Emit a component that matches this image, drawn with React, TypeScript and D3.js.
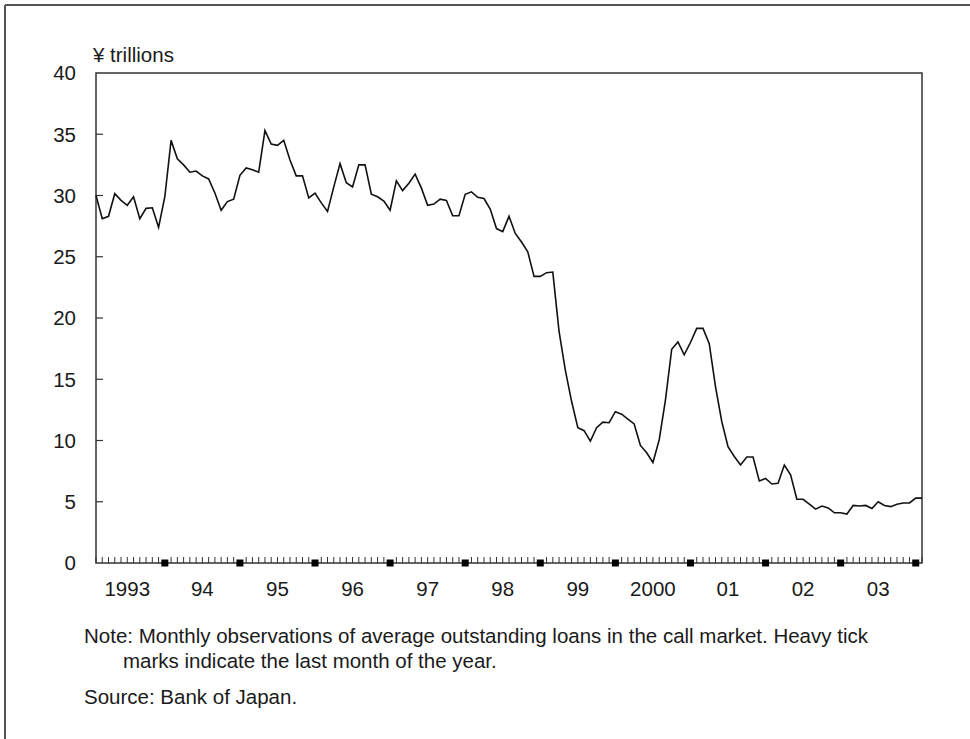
import React from "react";
import * as d3 from "d3";

const startYear = 1993;
// Monthly values, Jan 1993 .. Jan 2004 (¥ trillions)
const loans: number[] = [
  30.0, 28.1, 28.3, 30.15, 29.6, 29.2, 29.9, 28.1, 28.95, 29.0, 27.4, 29.9,
  34.5, 33.0, 32.5, 31.9, 32.0, 31.6, 31.35, 30.2, 28.8, 29.5, 29.7, 31.65,
  32.25, 32.1, 31.9, 35.3, 34.2, 34.1, 34.5, 32.9, 31.6, 31.6, 29.8, 30.2,
  29.4, 28.7, 30.7, 32.6, 31.05, 30.7, 32.5, 32.5, 30.1, 29.9, 29.55, 28.8,
  31.2, 30.4, 31.0, 31.75, 30.6, 29.2, 29.3, 29.7, 29.6, 28.35, 28.35, 30.1,
  30.3, 29.85, 29.75, 28.9, 27.3, 27.05, 28.3, 26.9, 26.2, 25.4, 23.4, 23.4,
  23.7, 23.75, 18.9, 15.75, 13.2, 11.05, 10.8, 9.95, 11.05, 11.5, 11.45, 12.35,
  12.15, 11.75, 11.35, 9.6, 9.0, 8.2, 10.05, 13.3, 17.45, 18.05, 17.0, 18.0,
  19.15, 19.15, 17.9, 14.4, 11.55, 9.5, 8.7, 8.0, 8.65, 8.65, 6.7, 6.9,
  6.45, 6.5, 8.0, 7.2, 5.2, 5.2, 4.8, 4.4, 4.65, 4.5, 4.1, 4.1,
  4.0, 4.7, 4.65, 4.7, 4.45, 5.0, 4.7, 4.6, 4.8, 4.9, 4.9, 5.3,
  5.3,
];
const yTicks = [0, 5, 10, 15, 20, 25, 30, 35, 40];
const yearLabels = ["1993", "94", "95", "96", "97", "98", "99", "2000", "01", "02", "03"];
const unitLabel = "¥ trillions";
const noteLines = [
  "Note: Monthly observations of average outstanding loans in the call market. Heavy tick",
  "marks indicate the last month of the year.",
];
const sourceLine = "Source: Bank of Japan.";

export default function App() {
  const left = 96, right = 922, top = 73, bottom = 563;
  const nMonths = loans.length - 1;
  const x = d3.scaleLinear().domain([0, nMonths]).range([left, right]);
  const y = d3.scaleLinear().domain([0, 40]).range([bottom, top]);
  const line = d3
    .line<number>()
    .x((_, i) => x(i))
    .y((d) => y(d));
  const months = d3.range(0, nMonths + 1);
  const font = "'Liberation Sans', Arial, Helvetica, sans-serif";
  const ink = "#1a1a1a";
  const fs = 20.5;

  return (
    <svg
      width={970}
      height={739}
      style={{ position: "absolute", left: 0, top: 0, background: "#fff" }}
      fontFamily={font}
    >
      <rect x={0} y={0} width={970} height={739} fill="#fff" />
      {/* outer frame (top & left) */}
      <line x1={5} y1={5} x2={970} y2={5} stroke="#555" strokeWidth={2} />
      <line x1={5} y1={5} x2={5} y2={739} stroke="#555" strokeWidth={2} />

      {/* plot box */}
      <rect
        x={left}
        y={top}
        width={right - left}
        height={bottom - top}
        fill="none"
        stroke="#333"
        strokeWidth={1.5}
      />

      {/* y ticks & labels */}
      {yTicks.map((t) => (
        <g key={t}>
          {t > 0 && t < 40 && (
            <line x1={left} x2={left + 7} y1={y(t)} y2={y(t)} stroke="#333" strokeWidth={1.2} />
          )}
          <text
            x={76}
            y={y(t)}
            dy="0.36em"
            textAnchor="end"
            fontSize={fs}
            fill={ink}
          >
            {t}
          </text>
        </g>
      ))}
      <text x={93} y={62} fontSize={fs} fill={ink}>
        {unitLabel}
      </text>

      {/* month ticks */}
      {months.map((m) =>
        m % 12 === 11 ? (
          <rect
            key={m}
            x={x(m) - 3.5}
            y={bottom - 3.5}
            width={7}
            height={7}
            fill="#000"
          />
        ) : (
          <line
            key={m}
            x1={x(m)}
            x2={x(m)}
            y1={bottom}
            y2={bottom - 6}
            stroke="#333"
            strokeWidth={1}
          />
        )
      )}

      {/* year labels */}
      {yearLabels.map((lab, k) => (
        <text
          key={lab}
          x={x(5 + 12 * k)}
          y={596}
          textAnchor="middle"
          fontSize={fs}
          fill={ink}
        >
          {lab}
        </text>
      ))}

      {/* data line */}
      <path d={line(loans) || ""} fill="none" stroke="#111" strokeWidth={1.6} strokeLinejoin="miter" />

      {/* notes */}
      <text x={84} y={643} fontSize={fs} fill={ink}>
        {noteLines[0]}
      </text>
      <text x={123} y={668} fontSize={fs} fill={ink}>
        {noteLines[1]}
      </text>
      <text x={84} y={704} fontSize={fs} fill={ink}>
        {sourceLine}
      </text>
    </svg>
  );
}
